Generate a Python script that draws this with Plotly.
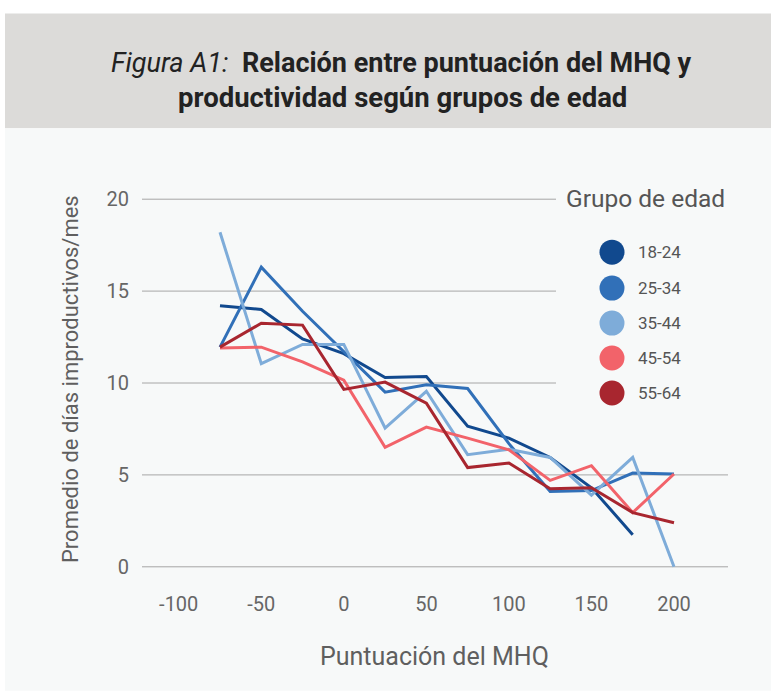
import plotly.graph_objects as go

# ---------------- data ----------------
mhq_scores = [-75, -50, -25, 0, 25, 50, 75, 100, 125, 150, 175, 200]
age_groups = ["18-24", "25-34", "35-44", "45-54", "55-64"]
days_18_24 = [14.2, 14.0, 12.4, 11.6, 10.3, 10.35, 7.65, 7.0, 5.95, 4.3, 1.75]
days_25_34 = [11.95, 16.3, 13.9, 11.7, 9.5, 9.9, 9.7, 6.7, 4.1, 4.15, 5.1, 5.05]
days_35_44 = [18.2, 11.05, 12.1, 12.1, 7.55, 9.55, 6.1, 6.4, 5.95, 3.9, 5.95, 0.0]
days_45_54 = [11.9, 11.95, 11.15, 10.15, 6.5, 7.6, 7.0, 6.36, 4.7, 5.5, 2.95, 5.05]
days_55_64 = [11.95, 13.25, 13.15, 9.65, 10.05, 8.9, 5.4, 5.65, 4.25, 4.3, 2.95, 2.4]
series = [days_18_24, days_25_34, days_35_44, days_45_54, days_55_64]
colors = ["#11498e", "#3170b8", "#7eacd9", "#f2636a", "#a8262f"]
x_ticks = [-100, -50, 0, 50, 100, 150, 200]
y_ticks = [0, 5, 10, 15, 20]

# ---------------- geometry (pixels) ----------------
W, H = 771, 691
L, R, T, B = 142, 728, 189.8, 576.2
PW, PH = R - L, B - T


def px(x):
    return (x - L) / PW


def py(y):
    return (B - y) / PH


BG = "#f7f9f9"
TITLE_BG = "#dcdbd9"
GRID = "#a6a6a6"
FONT = "Roboto"

fig = go.Figure()
for name, vals, col in zip(age_groups, series, colors):
    fig.add_trace(go.Scatter(
        x=mhq_scores[:len(vals)], y=vals, mode="lines", name=name,
        line=dict(color=col, width=3), showlegend=False, hoverinfo="x+y+name",
    ))

shapes = [
    # title band and panel background
    dict(type="rect", xref="paper", yref="paper", x0=px(5), x1=px(771), y0=py(128), y1=py(13),
         fillcolor=TITLE_BG, line=dict(width=0), layer="below"),
    dict(type="rect", xref="paper", yref="paper", x0=px(5), x1=px(771), y0=py(691), y1=py(128),
         fillcolor=BG, line=dict(width=0), layer="below"),
]
# horizontal gridlines at the y ticks (upper ones stop before the legend block)
for v in y_ticks:
    shapes.append(dict(type="line", xref="paper", yref="y", x0=0, x1=px(556) if v >= 10 else 1,
                       y0=v, y1=v, line=dict(color=GRID, width=1), layer="below"))

annotations = [
    dict(text="<i>Figura A1:</i>  <b>Relación entre puntuación del MHQ y</b>",
         x=px(401), y=py(63), xref="paper", yref="paper", showarrow=False,
         xanchor="center", yanchor="middle", font=dict(family=FONT, size=27, color="#222222")),
    dict(text="<b>productividad según grupos de edad</b>",
         x=px(402), y=py(97), xref="paper", yref="paper", showarrow=False,
         xanchor="center", yanchor="middle", font=dict(family=FONT, size=27.5, color="#222222")),
    dict(text="Promedio de días improductivos/mes", textangle=-90,
         x=px(70), y=py(379), xref="paper", yref="paper", showarrow=False,
         xanchor="center", yanchor="middle", font=dict(family=FONT, size=22, color="#5f5f5f")),
    dict(text="Puntuación del MHQ",
         x=px(434), y=py(657), xref="paper", yref="paper", showarrow=False,
         xanchor="center", yanchor="middle", font=dict(family=FONT, size=25, color="#5f5f5f")),
    dict(text="Grupo de edad",
         x=px(564), y=py(198), xref="paper", yref="paper", showarrow=False,
         xanchor="left", yanchor="middle", font=dict(family=FONT, size=24.5, color="#555555")),
]

legend_rows = [252, 288, 323, 358, 393]
for name, col, yy in zip(age_groups, colors, legend_rows):
    shapes.append(dict(type="circle", xref="paper", yref="paper",
                       xsizemode="pixel", ysizemode="pixel",
                       xanchor=px(612), yanchor=py(yy), x0=-12.5, x1=12.5, y0=-12.5, y1=12.5,
                       fillcolor=col, line=dict(width=0), layer="above"))
    annotations.append(dict(text=name, x=px(636), y=py(yy), xref="paper", yref="paper",
                            showarrow=False, xanchor="left", yanchor="middle",
                            font=dict(family=FONT, size=17, color="#555555")))

fig.update_layout(
    width=W, height=H,
    margin=dict(l=L, r=W - R, t=T, b=H - B, pad=0),
    paper_bgcolor="white", plot_bgcolor="rgba(0,0,0,0)",
    font=dict(family=FONT, color="#666666"),
    shapes=shapes, annotations=annotations, showlegend=False,
    xaxis=dict(range=[-122.25, 232.71], tickvals=x_ticks, ticktext=[str(v) for v in x_ticks],
               showgrid=False, zeroline=False, showline=False, ticks="",
               ticklabelstandoff=14, tickfont=dict(family=FONT, size=20, color="#666666"),
               fixedrange=True),
    yaxis=dict(range=[-0.5, 20.5], tickvals=y_ticks, showgrid=False,
               zeroline=False, showline=False, ticks="",
               ticklabelstandoff=12, tickfont=dict(family=FONT, size=20, color="#666666"),
               fixedrange=True),
)

fig.write_html("out.html", config={"displayModeBar": False},
               post_script="document.body.style.margin='0';document.body.style.padding='0';")
